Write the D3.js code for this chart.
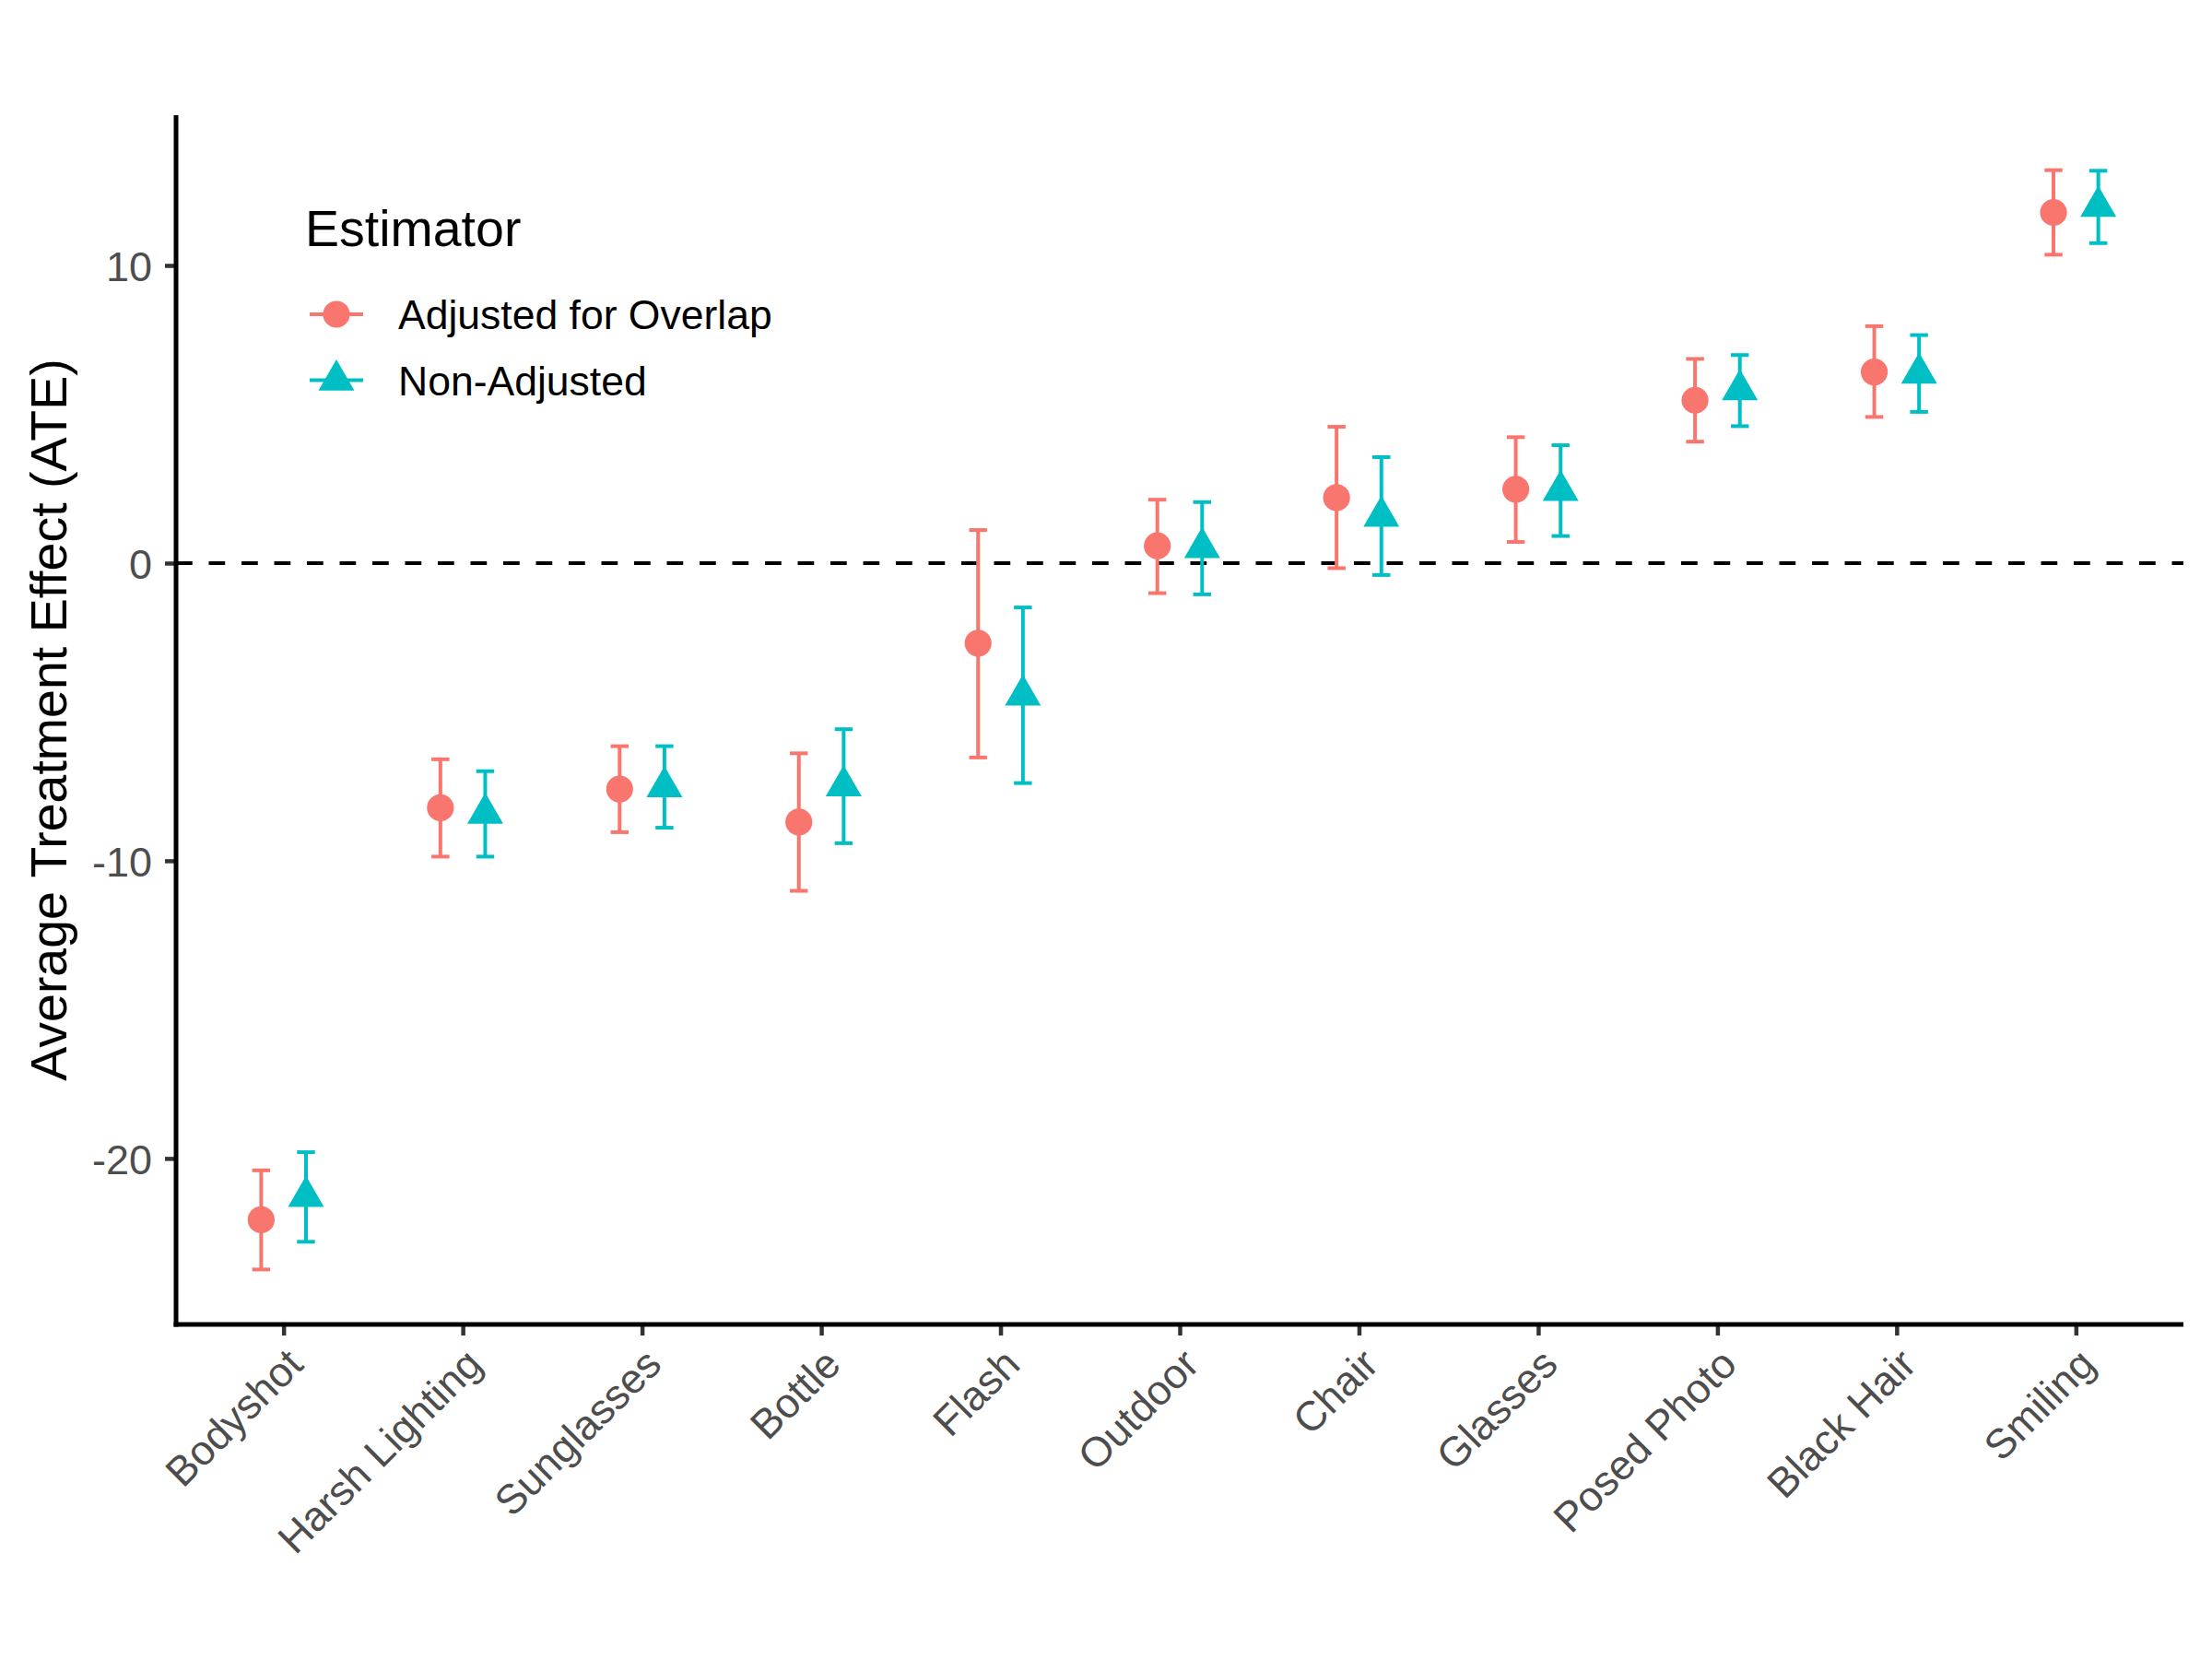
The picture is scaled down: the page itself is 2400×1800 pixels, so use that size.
<!DOCTYPE html>
<html>
<head>
<meta charset="utf-8">
<script src="https://cdn.jsdelivr.net/npm/d3@7"></script>
<style>
  body { margin: 0; background: #fff; }
  text { font-family: 'Liberation Sans', Arial, Helvetica, sans-serif; }
</style>
</head>
<body>
<svg id="chart" width="2400" height="1800"></svg>
<script>
const categories = ['Bodyshot', 'Harsh Lighting', 'Sunglasses', 'Bottle', 'Flash', 'Outdoor',
  'Chair', 'Glasses', 'Posed Photo', 'Black Hair', 'Smiling'];

// Adjusted for Overlap
const adjEst = [-22.06, -8.22, -7.59, -8.70, -2.69, 0.58, 2.20, 2.48, 5.47, 6.42, 11.78];
const adjLow = [-23.73, -9.86, -9.04, -11.01, -6.53, -1.01, -0.17, 0.71, 4.08, 4.91, 10.36];
const adjHigh = [-20.40, -6.59, -6.15, -6.39, 1.11, 2.13, 4.58, 4.23, 6.86, 7.96, 13.20];

// Non-Adjusted
const nonEst = [-21.28, -8.41, -7.52, -7.49, -4.44, 0.52, 1.57, 2.44, 5.82, 6.38, 11.98];
const nonLow = [-22.80, -9.86, -8.89, -9.41, -7.39, -1.05, -0.40, 0.91, 4.60, 5.08, 10.75];
const nonHigh = [-19.79, -6.99, -6.15, -5.58, -1.49, 2.05, 3.56, 3.96, 6.99, 7.66, 13.18];

const yTicks = [-20, -10, 0, 10];
const seriesNames = ['Adjusted for Overlap', 'Non-Adjusted'];
const seriesColors = ['#F8766D', '#00BFC4'];

const plotLeft = 191, plotRight = 2369, plotTop = 125, plotBottom = 1437;

const series = [
  { name: seriesNames[0], color: seriesColors[0], shape: 'circle', dodge: -1,
    rows: categories.map((c, i) => ({ cat: c, est: adjEst[i], lo: adjLow[i], hi: adjHigh[i] })) },
  { name: seriesNames[1], color: seriesColors[1], shape: 'triangle', dodge: 1,
    rows: categories.map((c, i) => ({ cat: c, est: nonEst[i], lo: nonLow[i], hi: nonHigh[i] })) }
];

const allVals = adjLow.concat(adjHigh, nonLow, nonHigh);
const yMin = d3.min(allVals), yMax = d3.max(allVals);
const pad = (yMax - yMin) * 0.05;

const xScale = d3.scalePoint()
  .domain(categories)
  .range([plotLeft, plotRight])
  .padding(0.6);

const yScale = d3.scaleLinear()
  .domain([yMin - pad, yMax + pad])
  .range([plotBottom, plotTop]);

const step = xScale.step();
const dodgeOff = step * 0.125;
const capHalf = step * 0.05;

const svg = d3.select('#chart');

// zero reference line
svg.append('line')
  .attr('x1', plotLeft).attr('x2', plotRight)
  .attr('y1', yScale(0)).attr('y2', yScale(0))
  .attr('stroke', '#000')
  .attr('stroke-width', 4)
  .attr('stroke-dasharray', '17.75,17.75');

const triangle = d3.symbol().type(d3.symbolTriangle).size(659);

series.forEach(s => {
  const g = svg.append('g');
  const px = d => xScale(d.cat) + s.dodge * dodgeOff;

  const bars = g.selectAll('.bar')
    .data(s.rows)
    .enter()
    .append('g')
    .attr('stroke', s.color)
    .attr('stroke-width', 4);

  bars.append('line')
    .attr('x1', px).attr('x2', px)
    .attr('y1', d => yScale(d.lo)).attr('y2', d => yScale(d.hi));
  bars.append('line')
    .attr('x1', d => px(d) - capHalf).attr('x2', d => px(d) + capHalf)
    .attr('y1', d => yScale(d.lo)).attr('y2', d => yScale(d.lo));
  bars.append('line')
    .attr('x1', d => px(d) - capHalf).attr('x2', d => px(d) + capHalf)
    .attr('y1', d => yScale(d.hi)).attr('y2', d => yScale(d.hi));

  if (s.shape === 'circle') {
    g.selectAll('circle')
      .data(s.rows)
      .enter()
      .append('circle')
      .attr('cx', px)
      .attr('cy', d => yScale(d.est))
      .attr('r', 14.6)
      .attr('fill', s.color);
  } else {
    g.selectAll('path.pt')
      .data(s.rows)
      .enter()
      .append('path')
      .attr('class', 'pt')
      .attr('transform', d => `translate(${px(d)},${yScale(d.est)})`)
      .attr('d', triangle)
      .attr('fill', s.color);
  }
});

// axes
const xAxis = svg.append('g')
  .attr('transform', `translate(0,${plotBottom})`)
  .call(d3.axisBottom(xScale).tickSize(12).tickPadding(0).tickSizeOuter(0));

xAxis.select('.domain').remove();
xAxis.selectAll('.tick line').attr('stroke', '#333333').attr('stroke-width', 4.5);
xAxis.selectAll('.tick text')
  .attr('fill', '#4D4D4D')
  .attr('font-size', 45)
  .attr('text-anchor', 'end')
  .attr('x', 0)
  .attr('y', 0)
  .attr('dy', '0.72em')
  .attr('transform', 'translate(0,23) rotate(-45)');

const yAxis = svg.append('g')
  .attr('transform', `translate(${plotLeft},0)`)
  .call(d3.axisLeft(yScale).tickValues(yTicks).tickFormat(d => String(d))
    .tickSize(12).tickPadding(14).tickSizeOuter(0));

yAxis.select('.domain').remove();
yAxis.selectAll('.tick line').attr('stroke', '#333333').attr('stroke-width', 4.5);
yAxis.selectAll('.tick text')
  .attr('fill', '#4D4D4D')
  .attr('font-size', 45)
  .attr('dy', '0.36em');

// axis lines drawn over ticks
svg.append('line')
  .attr('x1', plotLeft).attr('x2', plotLeft)
  .attr('y1', plotTop).attr('y2', plotBottom + 2.5)
  .attr('stroke', '#000').attr('stroke-width', 5);
svg.append('line')
  .attr('x1', plotLeft - 2.5).attr('x2', plotRight)
  .attr('y1', plotBottom).attr('y2', plotBottom)
  .attr('stroke', '#000').attr('stroke-width', 5);

svg.append('text')
  .attr('transform', `translate(72,${(plotTop + plotBottom) / 2}) rotate(-90)`)
  .attr('text-anchor', 'middle')
  .attr('font-size', 55.5)
  .attr('fill', '#000')
  .text('Average Treatment Effect (ATE)');

// legend
const legend = svg.append('g');
legend.append('text')
  .attr('x', 331).attr('y', 267)
  .attr('font-size', 55.5)
  .attr('fill', '#000')
  .text('Estimator');

series.forEach((s, i) => {
  const ly = 341 + i * 71.5;
  legend.append('line')
    .attr('x1', 336).attr('x2', 394)
    .attr('y1', ly).attr('y2', ly)
    .attr('stroke', s.color).attr('stroke-width', 4);
  if (s.shape === 'circle') {
    legend.append('circle')
      .attr('cx', 365).attr('cy', ly).attr('r', 14.6)
      .attr('fill', s.color);
  } else {
    legend.append('path')
      .attr('transform', `translate(365,${ly})`)
      .attr('d', triangle)
      .attr('fill', s.color);
  }
  legend.append('text')
    .attr('x', 432).attr('y', ly)
    .attr('dy', '0.36em')
    .attr('font-size', 44.5)
    .attr('fill', '#000')
    .text(s.name);
});
</script>
</body>
</html>
